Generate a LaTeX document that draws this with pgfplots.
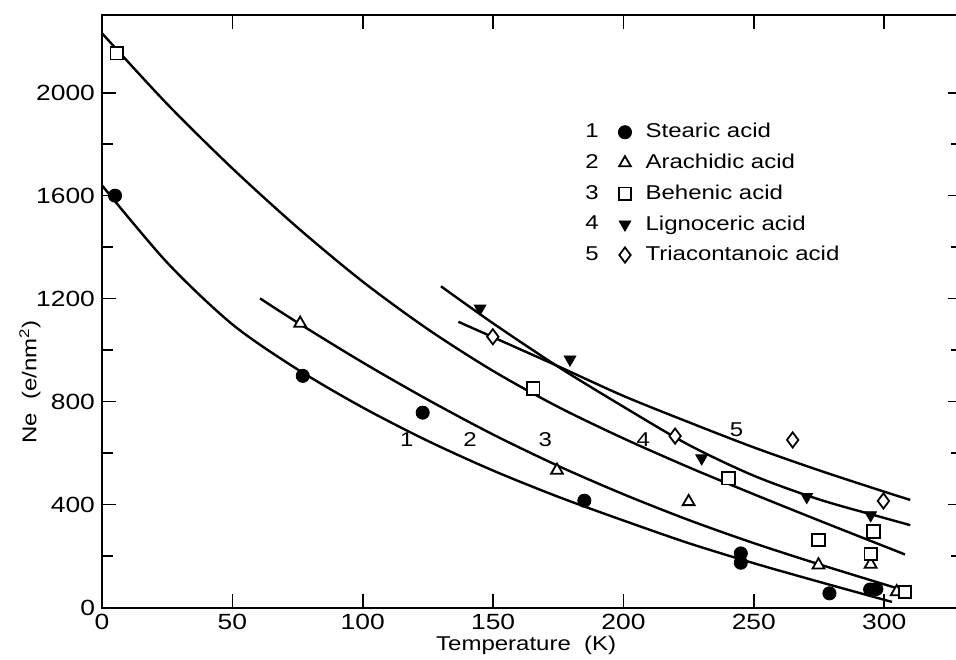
\documentclass[border=0pt]{standalone}
\usepackage{fontspec}
\setmainfont{Liberation Sans}[FakeStretch=1.2]
\usepackage{pgfplots}
\pgfplotsset{compat=1.18}

\pgfplotstableread{
T    N
5    1600
77   900
123  757
185  415
245  210
245  174
279  55
294.6 70
297  72
}\stearic
\pgfplotstableread{
T    N
76   1104
174.5 533
225  411
274.8 165
294.8 168
304.8 61
}\arachidic
\pgfplotstableread{
T    N
5.6  2153
165.4 851
240.3 502
274.8 262
295.9 295
294.8 208
308  61
}\behenic
\pgfplotstableread{
T    N
145  1162
179.5 964
230  580
270.3 430
294.8 359
}\lignoceric
\pgfplotstableread{
T    N
149.9 1052
219.8 666
264.9 651
299.7 414
}\triacontanoic

\pgfplotsset{
  numleg/.style={legend image code/.code={
    \node[font=\fontsize{10}{12}\selectfont, inner sep=1pt] at (0pt,0pt) {#1};
    \draw[##1] plot coordinates {(21pt,0pt)};}},
  fit/.style={smooth, black, line width=1.2pt, forget plot},
}

\begin{document}
\begin{tikzpicture}
\begin{axis}[
  scale only axis, width=430.2pt, height=296pt,
  at={(0pt,0pt)}, anchor=origin,
  xmin=0, xmax=330, ymin=0, ymax=2300,
  xtick={0,50,...,300}, ytick={0,400,...,2000},
  minor ytick={200,600,...,1800},
  tick align=inside, major tick length=7pt, minor tick length=5.5pt,
  axis line style={line width=1pt},
  every tick/.style={black, line width=0.8pt},
  tick label style={font=\fontsize{11}{13}\selectfont},
  /pgf/number format/assume math mode=true,
  /pgf/number format/1000 sep={},
  xlabel={Temperature\ \ (K)},
  ylabel={Ne\ \ (e/nm\textsuperscript{2})},
  label style={font=\fontsize{10}{12}\selectfont},
  every axis x label/.style={at={([yshift=-18.75pt]rel axis cs:0.493,0)}, anchor=center},
  every axis y label/.style={at={([xshift=-36pt]rel axis cs:0,0.381)}, anchor=center, rotate=90},
  legend style={draw=none, fill=none, inner sep=0pt, at={(0.559,0.825)}, anchor=north west,
    font=\fontsize{10}{12}\selectfont, row sep=2.6pt, column sep=5pt},
  legend cell align=left,
]
\addplot[only marks, mark=*, mark size=3.3pt, black, numleg=1] table {\stearic};
\addlegendentry{Stearic acid}
\addplot[only marks, mark=triangle*, mark size=3.4pt, black, fill=white, mark options={line width=0.9pt}, numleg=2] table {\arachidic};
\addlegendentry{Arachidic acid}
\addplot[only marks, mark=square*, mark size=3.1pt, black, fill=white, mark options={line width=0.9pt}, numleg=3] table {\behenic};
\addlegendentry{Behenic acid}
\addplot[only marks, mark=triangle*, mark size=3.4pt, black, mark options={rotate=180}, numleg=4] table {\lignoceric};
\addlegendentry{Lignoceric acid}
\addplot[only marks, mark=diamond*, mark size=3.8pt, black, fill=white, mark options={line width=0.9pt}, numleg=5] table {\triacontanoic};
\addlegendentry{Triacontanoic acid}

% fit curves, every 25 K
\addplot[fit] coordinates {(0,1640) (25,1340) (50,1100) (75,925) (100,777) (125,647) (150,532)
  (175,430) (200,338) (225,250) (250,172) (275,100) (300,30) (303,22)};
\addplot[fit] coordinates {(60.6,1201) (75,1107) (100,952) (125,807) (150,672) (175,550)
  (200,440) (225,340) (250,250) (275,168) (300,90) (304,78)};
\addplot[fit] coordinates {(0,2231) (25,1956) (50,1706) (75,1476) (100,1266) (125,1081) (150,919)
  (175,779) (200,657) (225,545) (250,440) (275,338) (300,238) (308,206)};
\addplot[fit] coordinates {(130,1248) (150,1104) (175,935) (200,780) (225,632) (250,512)
  (275,420) (300,348) (310,320)};
\addplot[fit] coordinates {(136.7,1110) (150,1050) (175,937) (200,822) (225,720) (250,622)
  (275,533) (300,450) (310,418)};

\node[font=\fontsize{10}{12}\selectfont] at (axis cs:116.9,651) {1};
\node[font=\fontsize{10}{12}\selectfont] at (axis cs:141.2,651) {2};
\node[font=\fontsize{10}{12}\selectfont] at (axis cs:170,651) {3};
\node[font=\fontsize{10}{12}\selectfont] at (axis cs:207.6,651) {4};
\node[font=\fontsize{10}{12}\selectfont] at (axis cs:243.4,690) {5};
\end{axis}
\pgfresetboundingbox
\path[use as bounding box] (-51pt,-25.75pt) rectangle (427pt,303.75pt);
\end{tikzpicture}
\end{document}
